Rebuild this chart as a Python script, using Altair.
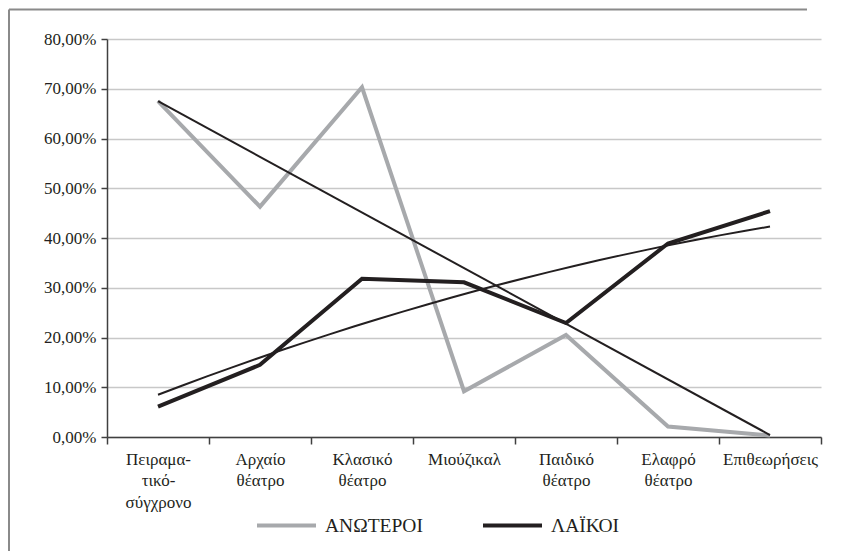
import json
import altair as alt
import pandas as pd

# ---- data ----
categories = [
    ["Πειραμα-", "τικό-", "σύγχρονο"],
    ["Αρχαίο", "θέατρο"],
    ["Κλασικό", "θέατρο"],
    ["Μιούζικαλ"],
    ["Παιδικό", "θέατρο"],
    ["Ελαφρό", "θέατρο"],
    ["Επιθεωρήσεις"],
]
series_names = ["ΑΝΩΤΕΡΟΙ", "ΛΑΪΚΟΙ"]
anoteroi = [67.5, 46.3, 70.3, 9.2, 20.5, 2.1, 0.3]
laikoi = [6.1, 14.5, 31.8, 31.1, 22.9, 38.9, 45.4]
# linear trend of ΑΝΩΤΕΡΟΙ, value at first and last category
anoteroi_trend_pos = [1, 7]
anoteroi_trend_val = [67.5, 0.4]
y_ticks = [0, 10, 20, 30, 40, 50, 60, 70, 80]

positions = list(range(1, len(categories) + 1))
boundaries = [p - 0.5 for p in positions] + [positions[-1] + 0.5]

rows = []
for name, vals in zip(series_names, [anoteroi, laikoi]):
    for p, v in zip(positions, vals):
        rows.append({"pos": p, "value": v, "series": name})
df = pd.DataFrame(rows)
df_trend = pd.DataFrame({"pos": anoteroi_trend_pos, "value": anoteroi_trend_val})

FONT = "Liberation Serif"
BLACK = "#231f20"
GRAY = "#a7a9ac"

names_js = json.dumps(categories, ensure_ascii=False)

x_scale = alt.Scale(domain=[boundaries[0], boundaries[-1]], nice=False, zero=False)
y_scale = alt.Scale(domain=[0, 80], nice=False)

x_axis = alt.Axis(
    values=sorted(boundaries + positions),
    title=None,
    grid=False,
    domainColor="#404040",
    domainWidth=1.5,
    tickColor="#404040",
    tickWidth=1.5,
    tickSize=7,
    tickOpacity={"condition": {"test": "datum.value % 1 !== 0", "value": 1}, "value": 0},
    labelExpr=f"datum.value % 1 === 0 ? {names_js}[datum.value - 1] : ''",
    labelFont=FONT,
    labelFontSize=17,
    labelColor=BLACK,
    labelPadding=7,
    labelLineHeight=21.5,
    labelFlush=False,
    labelOverlap=False,
    labelBound=False,
)
y_axis = alt.Axis(
    values=y_ticks,
    title=None,
    grid=True,
    gridColor="#c8c8c8",
    gridWidth=1.5,
    domainColor="#404040",
    domainWidth=1.5,
    tickColor="#404040",
    tickWidth=1.5,
    tickSize=6,
    labelExpr="replace(format(datum.value, '.2f'), '.', ',') + '%'",
    labelFont=FONT,
    labelFontSize=17,
    labelColor=BLACK,
    labelPadding=5,
)

base = alt.Chart(df)

main = base.mark_line(strokeWidth=4, strokeJoin="miter").encode(
    x=alt.X("pos:Q", scale=x_scale, axis=x_axis),
    y=alt.Y("value:Q", scale=y_scale, axis=y_axis),
    color=alt.Color(
        "series:N",
        scale=alt.Scale(domain=series_names, range=[GRAY, BLACK]),
        sort=series_names,
        legend=alt.Legend(
            title=None,
            orient="none",
            direction="horizontal",
            legendX=148,
            legendY=455,
            symbolType="stroke",
            symbolStrokeWidth=4,
            symbolSize=3481,
            labelFont=FONT,
            labelFontSize=19.5,
            labelColor=BLACK,
            labelOffset=7,
            columnPadding=52,
            padding=0,
        ),
    ),
    detail="series:N",
)

laikoi_trend = (
    base.transform_filter(alt.datum.series == series_names[1])
    .transform_regression("pos", "value", method="poly", order=2, extent=[positions[0], positions[-1]])
    .mark_line(color=BLACK, strokeWidth=2)
    .encode(x=alt.X("pos:Q", scale=x_scale), y=alt.Y("value:Q", scale=y_scale))
)

anoteroi_trend = (
    alt.Chart(df_trend)
    .mark_line(color=BLACK, strokeWidth=2)
    .encode(x=alt.X("pos:Q", scale=x_scale), y=alt.Y("value:Q", scale=y_scale))
)

frame_df = pd.DataFrame({"k": [0]})
border_left = alt.Chart(frame_df).mark_rule(color="#8a8a8a", strokeWidth=2).encode(
    x=alt.value(-98), y=alt.value(-29.5), y2=alt.value(520)
)
border_top = alt.Chart(frame_df).mark_rule(color="#8a8a8a", strokeWidth=2).encode(
    x=alt.value(-98), x2=alt.value(700), y=alt.value(-29.5)
)

chart = (
    alt.layer(main, laikoi_trend, anoteroi_trend, border_left, border_top)
    .properties(
        width=714,
        height=398,
        autosize=alt.AutoSizeParams(type="none"),
        padding={"left": 99, "top": 31, "right": 16, "bottom": 114},
        background="white",
    )
    .configure_view(stroke=None)
)

chart.save("out.html", embed_options={"renderer": "svg", "actions": False})
